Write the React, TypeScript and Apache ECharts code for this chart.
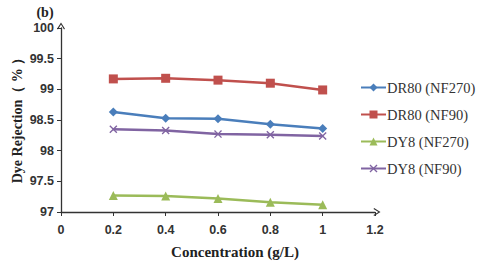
import React, { useEffect, useRef } from "react";
import * as echarts from "echarts";

const concentrations = [0.2, 0.4, 0.6, 0.8, 1.0];
const dr80Nf270 = [98.63, 98.53, 98.52, 98.43, 98.36];
const dr80Nf90 = [99.17, 99.18, 99.15, 99.1, 98.99];
const dy8Nf270 = [97.27, 97.26, 97.22, 97.16, 97.12];
const dy8Nf90 = [98.35, 98.33, 98.27, 98.26, 98.24];
const seriesNames = ["DR80 (NF270)", "DR80 (NF90)", "DY8 (NF270)", "DY8 (NF90)"];

const pairs = (ys: number[]) => concentrations.map((x, i) => [x, ys[i]]);

export default function App() {
  const ref = useRef<HTMLDivElement>(null);
  useEffect(() => {
    if (!ref.current) return;
    document.body.style.margin = "0";
    const chart = echarts.init(ref.current, null, { renderer: "svg" });
    const cross = "path://M0,1.2L1.2,0L5,3.8L8.8,0L10,1.2L6.2,5L10,8.8L8.8,10L5,6.2L1.2,10L0,8.8L3.8,5Z";
    const chevron = "path://M0,8L5,0L10,8L8.8,8.8L5,2.6L1.2,8.8Z";
    const tickFont = { fontFamily: "Liberation Sans", fontWeight: "bold" as const, fontSize: 12.5, color: "#333" };
    const axisLine = {
      show: true,
      symbol: ["none", chevron],
      symbolSize: [9, 7],
      symbolOffset: [0, 2],
      lineStyle: { color: "#333", width: 1.3 },
    };
    chart.setOption({
      animation: false,
      backgroundColor: "#fff",
      grid: { left: 61, right: 105, top: 28, bottom: 54, containLabel: false },
      graphic: [
        {
          type: "text",
          x: 45,
          y: 12,
          style: { text: "(b)", font: "bold 14px 'Liberation Serif'", fill: "#222", align: "center", verticalAlign: "middle" },
        },
        {
          type: "text",
          x: 235,
          y: 252,
          style: {
            text: "Concentration (g/L)",
            font: "bold 15px 'Liberation Serif'",
            fill: "#222",
            align: "center",
            verticalAlign: "middle",
          },
        },
        {
          type: "text",
          x: 17,
          y: 117,
          rotation: Math.PI / 2,
          style: {
            text: "Dye Rejection（ % ）",
            font: "bold 14px 'Liberation Serif'",
            fill: "#222",
            align: "center",
            verticalAlign: "middle",
          },
        },
      ],
      legend: {
        orient: "vertical",
        left: 360,
        top: 80,
        padding: 0,
        itemWidth: 25,
        itemHeight: 10,
        itemGap: 12,
        textStyle: { fontFamily: "Liberation Serif", fontSize: 14.5, color: "#333", padding: [0, 0, 0, -4] },
        data: seriesNames,
      },
      xAxis: {
        type: "value",
        min: 0,
        max: 1.2,
        interval: 0.2,
        axisLine,
        axisTick: { show: true, length: 4, lineStyle: { color: "#333" } },
        axisLabel: { ...tickFont, margin: 11, formatter: (v: number) => String(+v.toFixed(1)) },
        splitLine: { show: false },
      },
      yAxis: {
        type: "value",
        min: 97,
        max: 100,
        interval: 0.5,
        axisLine,
        axisTick: { show: true, length: 4, lineStyle: { color: "#333" } },
        axisLabel: { ...tickFont, margin: 7, formatter: (v: number) => String(+v.toFixed(1)) },
        splitLine: { show: false },
      },
      series: [
        {
          name: seriesNames[0],
          type: "line",
          data: pairs(dr80Nf270),
          symbol: "diamond",
          symbolSize: 9,
          color: "#4A7EBB",
          lineStyle: { width: 2.5 },
        },
        {
          name: seriesNames[1],
          type: "line",
          data: pairs(dr80Nf90),
          symbol: "rect",
          symbolSize: 9,
          color: "#C0504D",
          lineStyle: { width: 2.5 },
        },
        {
          name: seriesNames[2],
          type: "line",
          data: pairs(dy8Nf270),
          symbol: "triangle",
          symbolSize: 9,
          color: "#9BBB59",
          lineStyle: { width: 2.5 },
        },
        {
          name: seriesNames[3],
          type: "line",
          data: pairs(dy8Nf90),
          symbol: cross,
          symbolSize: 8,
          color: "#8064A2",
          lineStyle: { width: 2.5 },
        },
      ],
    });
    return () => chart.dispose();
  }, []);
  return <div ref={ref} style={{ width: 480, height: 266 }} />;
}
